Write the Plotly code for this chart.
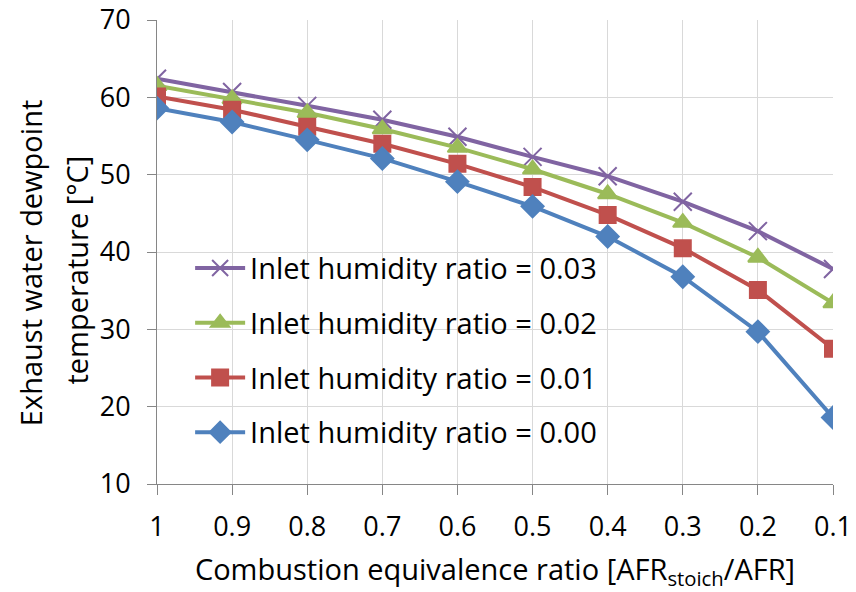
import plotly.graph_objects as go

# Equivalence ratio (x axis, shown decreasing left to right)
phi = [1.0, 0.9, 0.8, 0.7, 0.6, 0.5, 0.4, 0.3, 0.2, 0.1]
tick_labels = ["1", "0.9", "0.8", "0.7", "0.6", "0.5", "0.4", "0.3", "0.2", "0.1"]

# Exhaust water dewpoint temperature [°C] per inlet humidity ratio
dew_003 = [62.4, 60.7, 58.9, 57.1, 54.9, 52.3, 49.8, 46.5, 42.7, 37.8]
dew_002 = [61.5, 59.8, 58.0, 55.9, 53.5, 50.7, 47.5, 43.8, 39.3, 33.4]
dew_001 = [60.1, 58.4, 56.2, 54.0, 51.4, 48.4, 44.8, 40.5, 35.1, 27.5]
dew_000 = [58.6, 56.8, 54.5, 52.1, 49.1, 45.9, 42.0, 36.8, 29.7, 18.6]

series = [
    ("Inlet humidity ratio = 0.03", dew_003, "#8064A2", "x-thin", 18),
    ("Inlet humidity ratio = 0.02", dew_002, "#9BBB59", "triangle-up", 17),
    ("Inlet humidity ratio = 0.01", dew_001, "#C0504D", "square", 16),
    ("Inlet humidity ratio = 0.00", dew_000, "#4F81BD", "diamond", 17),
]

font_family = "Open Sans, Liberation Sans, sans-serif"
fs = 29
tick_fs = 27

fig = go.Figure()
for i, (name, vals, color, symbol, size) in enumerate(series):
    fig.add_trace(go.Scatter(
        x=phi, y=vals, name=name, mode="lines+markers",
        legendgroup=f"g{i}",
        line=dict(color=color, width=4),
        marker=dict(symbol=symbol, size=size, color=color,
                    line=dict(color=color, width=2)),
    ))

# Two-line y-axis title, one annotation per line
y_title_lines = [
    ("Exhaust water dewpoint", -127, 0.476),
    ("temperature [°C]", -80, 0.46),
]
annotations = [
    dict(text=t, xref="paper", yref="paper", x=0, y=yy, xshift=dx,
         xanchor="center", yanchor="middle", textangle=-90, showarrow=False,
         font=dict(size=fs, family=font_family, color="black"))
    for t, dx, yy in y_title_lines
]

fig.update_layout(
    width=856, height=592,
    margin=dict(l=157, r=23, t=20, b=108),
    paper_bgcolor="white", plot_bgcolor="white",
    font=dict(family=font_family, size=fs, color="black"),
    showlegend=True,
    legend=dict(
        x=0.049, y=0.52, xanchor="left", yanchor="top",
        bgcolor="rgba(255,255,255,0)",
        font=dict(size=fs, color="black"),
        traceorder="grouped", tracegroupgap=14,
        itemwidth=50,
    ),
    annotations=annotations,
)

fig.update_xaxes(
    range=[1.0, 0.1], autorange=False, automargin=False,
    tickmode="array", tickvals=phi, ticktext=tick_labels,
    showgrid=True, gridcolor="#D9D9D9", gridwidth=1,
    showline=True, linecolor="#868686", linewidth=1,
    ticks="outside", ticklen=10, tickcolor="#868686",
    tickfont=dict(size=tick_fs), ticklabelstandoff=9,
    ticklabeloverflow="allow",
    zeroline=False,
    title=dict(text="Combustion equivalence ratio [AFR<sub>stoich</sub>/AFR]",
               font=dict(size=fs), standoff=18),
)

fig.update_yaxes(
    range=[10, 70], dtick=10, automargin=False,
    showgrid=True, gridcolor="#D9D9D9", gridwidth=1,
    showline=True, linecolor="#868686", linewidth=1,
    ticks="outside", ticklen=9, tickcolor="#868686",
    tickfont=dict(size=tick_fs), ticklabelstandoff=11,
    ticklabeloverflow="allow",
    zeroline=False,
)

fig.write_html("out.html")
